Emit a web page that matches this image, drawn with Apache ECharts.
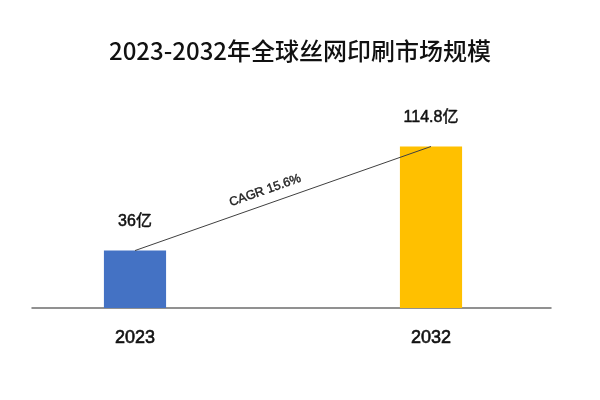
<!DOCTYPE html>
<html>
<head>
<meta charset="utf-8">
<script src="https://cdn.jsdelivr.net/npm/echarts@6/dist/echarts.min.js"></script>
<style>html,body{margin:0;padding:0;background:#fff;}#c{width:600px;height:400px;}</style>
</head>
<body>
<div id="c"></div>
<script>
const title = '2023-2032年全球丝网印刷市场规模';
const categories = ['2023', '2032'];
const values = [36, 114.8];
const unit = '亿';
const barColors = ['#4472C4', '#FFC000'];
const cagrLabel = 'CAGR 15.6%';

const yMin = -7.5, yMax = 150;
const chart = echarts.init(document.getElementById('c'), null, {renderer: 'canvas'});
chart.setOption({
  backgroundColor: '#fff',
  animation: false,
  title: {
    text: title, left: 'center', top: 34,
    textStyle: {fontFamily: 'Noto Sans CJK SC', fontSize: 24, fontWeight: 500, color: '#111'}
  },
  grid: [
    {left: 135, right: 169, top: 100, bottom: 92},
    {left: 32, right: 49, top: 100, bottom: 92}
  ],
  xAxis: [
    {type: 'category', gridIndex: 0, data: categories, boundaryGap: false,
     axisLine: {show: false}, axisTick: {show: false},
     axisLabel: {margin: 21, fontFamily: 'Liberation Sans', fontSize: 18, color: '#111',
                 textBorderColor: '#111', textBorderWidth: 0.6}},
    {type: 'category', gridIndex: 1, data: categories,
     axisLine: {show: true, onZero: false, lineStyle: {color: '#6e6e6e', width: 1.5}},
     axisTick: {show: false}, axisLabel: {show: false}}
  ],
  yAxis: [
    {type: 'value', gridIndex: 0, min: yMin, max: yMax, show: false},
    {type: 'value', gridIndex: 1, min: yMin, max: yMax, show: false}
  ],
  series: [
    {
      type: 'custom', xAxisIndex: 0, yAxisIndex: 0,
      data: values.map((v, i) => [i, v]),
      renderItem: function (params, api) {
        const x = api.value(0), v = api.value(1);
        const top = api.coord([x, v]);
        const base = api.coord([x, yMin]);
        const w = api.size([1, 0])[0] * 0.21;
        return {
          type: 'group',
          children: [
            {type: 'rect', shape: {x: top[0] - w / 2, y: top[1], width: w, height: base[1] - top[1]},
             style: {fill: barColors[params.dataIndex]}},
            {type: 'text', x: top[0], y: top[1] - 29,
             style: {text: v + unit, align: 'center', verticalAlign: 'middle',
                     font: '16px "Liberation Sans", "Noto Sans CJK SC"', fill: '#111',
                     stroke: '#111', lineWidth: 0.5}}
          ]
        };
      }
    },
    {
      type: 'line', xAxisIndex: 0, yAxisIndex: 0,
      data: values, symbol: 'none', lineStyle: {opacity: 0}, silent: true, z: 5,
      markLine: {
        silent: true, symbol: ['none', 'none'],
        lineStyle: {color: '#404040', width: 1, type: 'solid'},
        label: {show: true, position: 'middle', formatter: cagrLabel, distance: 7,
                padding: [0, 28, 0, 0],
                fontFamily: 'Liberation Sans', fontSize: 12.5, color: '#222',
                textBorderColor: '#222', textBorderWidth: 0.4},
        data: [[{coord: [categories[0], values[0]]}, {coord: [categories[1], values[1]]}]]
      }
    }
  ]
});
</script>
</body>
</html>
